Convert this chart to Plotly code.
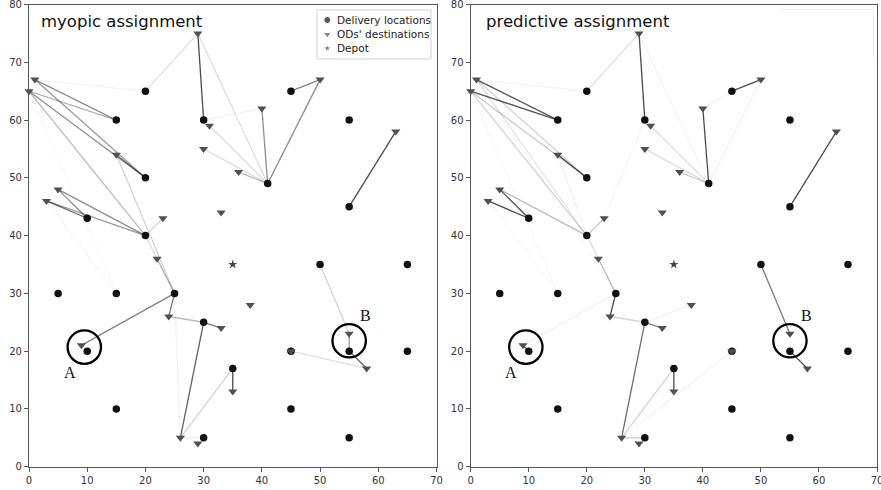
import plotly.graph_objects as go

W, H = 881, 490

# Delivery locations
delivery_x = [10, 15, 5, 15, 25, 20, 10, 20, 15, 20, 30, 41, 45, 55, 55, 50, 65, 45, 55, 65, 45, 55, 30, 30, 35]
delivery_y = [20, 10, 30, 30, 30, 40, 43, 50, 60, 65, 60, 49, 65, 60, 45, 35, 35, 20, 20, 20, 10, 5, 5, 25, 17]

# Occasional drivers' destinations
od_x = [1, 0, 15, 5, 3, 23, 22, 24, 9, 33, 35, 26, 29, 29, 31, 30, 40, 36, 33, 50, 63, 38, 45, 55, 58]
od_y = [67, 65, 54, 48, 46, 43, 36, 26, 21, 24, 13, 5, 4, 75, 59, 55, 62, 51, 44, 67, 58, 28, 20, 23, 17]

# Depot
depot_x = [35]
depot_y = [35]

# Assignments: (destination index, delivery index, weight)
myopic_edges = [
    (1, 8, 0.35), (0, 8, 0.5), (0, 7, 0.45), (1, 7, 0.5), (2, 7, 0.6),
    (1, 5, 0.3), (2, 4, 0.2), (3, 6, 0.5), (4, 6, 0.65), (3, 5, 0.5),
    (4, 5, 0.45), (5, 5, 0.2), (0, 9, 0.05), (13, 9, 0.15), (13, 10, 0.8),
    (13, 11, 0.15), (16, 10, 0.06), (14, 11, 0.15), (15, 11, 0.15), (17, 11, 0.3),
    (16, 11, 0.5), (19, 11, 0.5), (19, 12, 0.55), (20, 14, 0.8), (4, 3, 0.04),
    (1, 3, 0.03), (6, 5, 0.15), (6, 4, 0.35), (8, 4, 0.55), (7, 4, 0.6),
    (7, 23, 0.3), (9, 23, 0.6), (11, 23, 0.7), (11, 4, 0.06), (11, 24, 0.2),
    (11, 22, 0.08), (10, 24, 0.8), (23, 15, 0.2), (23, 18, 0.45), (24, 18, 0.7),
    (24, 17, 0.15),
]
predictive_edges = [
    (0, 8, 0.75), (1, 8, 0.75), (0, 9, 0.05), (1, 7, 0.25), (0, 7, 0.2),
    (2, 7, 0.8), (1, 5, 0.2), (0, 5, 0.12), (2, 5, 0.06), (3, 6, 0.8),
    (4, 6, 0.8), (3, 5, 0.3), (5, 5, 0.25), (4, 3, 0.03), (1, 3, 0.03),
    (0, 4, 0.03), (13, 9, 0.15), (13, 10, 0.8), (13, 11, 0.05), (14, 11, 0.15),
    (15, 11, 0.15), (17, 11, 0.2), (16, 11, 0.8), (16, 12, 0.05), (19, 11, 0.05),
    (19, 12, 0.8), (20, 14, 0.8), (5, 10, 0.04), (6, 5, 0.15), (6, 4, 0.3),
    (7, 4, 0.8), (8, 4, 0.05), (8, 0, 0.8), (7, 23, 0.2), (9, 23, 0.55),
    (11, 23, 0.65), (11, 24, 0.2), (11, 22, 0.25), (10, 24, 0.8), (11, 17, 0.05),
    (21, 23, 0.06), (23, 15, 0.6), (24, 18, 0.8),
]

panels = [
    ("myopic assignment", myopic_edges, "x", "y"),
    ("predictive assignment", predictive_edges, "x2", "y2"),
]

# Highlighted spots and their labels
highlights = [("A", 9.5, 20.7, 7.0, 16.3), ("B", 55.0, 21.8, 57.8, 26.1)]
circle_rx, circle_ry = 2.87, 2.89

x_ticks = list(range(0, 71, 10))
y_ticks = list(range(0, 81, 10))

legend_labels = ["Delivery locations", "ODs' destinations", "Depot"]

DOT_COLOR = "#111111"
TRI_COLOR = "#505050"
STAR_COLOR = "#444444"
FONT = "DejaVu Sans"

fig = go.Figure()

for title, edges, xa, ya in panels:
    for o, d, w in edges:
        fig.add_trace(go.Scatter(
            x=[od_x[o], delivery_x[d]], y=[od_y[o], delivery_y[d]],
            xaxis=xa, yaxis=ya, mode="lines",
            line=dict(color=f"rgba(30,30,30,{w})", width=1.3),
            showlegend=False, hoverinfo="skip",
        ))
    fig.add_trace(go.Scatter(
        x=delivery_x, y=delivery_y, xaxis=xa, yaxis=ya, mode="markers",
        marker=dict(symbol="circle", size=7.5, color=DOT_COLOR),
        showlegend=False, cliponaxis=False,
    ))
    fig.add_trace(go.Scatter(
        x=od_x, y=od_y, xaxis=xa, yaxis=ya, mode="markers",
        marker=dict(symbol="triangle-down", size=8, color=TRI_COLOR),
        showlegend=False, cliponaxis=False,
    ))
    fig.add_trace(go.Scatter(
        x=depot_x, y=depot_y, xaxis=xa, yaxis=ya, mode="markers",
        marker=dict(symbol="star", size=7, color=STAR_COLOR),
        showlegend=False,
    ))

# Legend keys drawn on a pixel-space overlay
key_x = 327.3
key_y = [20, 34.3, 48.3]
key_symbols = ["circle", "triangle-down", "star"]
key_colors = [DOT_COLOR, TRI_COLOR, STAR_COLOR]
key_sizes = [7, 7, 6]
fig.add_trace(go.Scatter(
    x=[key_x] * 3, y=key_y, xaxis="x3", yaxis="y3", mode="markers",
    marker=dict(symbol=key_symbols, color=key_colors, size=key_sizes),
    showlegend=False, hoverinfo="skip", cliponaxis=False,
))

shapes = []
annotations = []

# Legend frame in the first panel
shapes.append(dict(type="rect", xref="paper", yref="paper",
                   x0=317 / W, x1=431 / W, y0=1 - 59 / H, y1=1 - 10 / H,
                   line=dict(color="#d0d0d0", width=1), fillcolor="white",
                   layer="below"))
# Faint empty frame in the second panel
shapes.append(dict(type="path", xref="paper", yref="paper",
                   path=f"M {780 / W} {1 - 9.5 / H} L {873.5 / W} {1 - 9.5 / H} L {873.5 / W} {1 - 57 / H}",
                   line=dict(color="#ececec", width=1), layer="below"))

for i, lab in enumerate(legend_labels):
    annotations.append(dict(x=335 / W, y=1 - key_y[i] / H, xref="paper", yref="paper",
                            text=lab, showarrow=False, xanchor="left", yanchor="middle",
                            font=dict(family=FONT, size=10.5, color="#222")))

for title, edges, xa, ya in panels:
    for lab, cx, cy, lx, ly in highlights:
        shapes.append(dict(type="circle", xref=xa, yref=ya,
                           x0=cx - circle_rx, x1=cx + circle_rx,
                           y0=cy - circle_ry, y1=cy + circle_ry,
                           line=dict(color="black", width=2.3), layer="above"))
        annotations.append(dict(x=lx, y=ly, xref=xa, yref=ya, text=lab, showarrow=False,
                                xanchor="center", yanchor="middle",
                                font=dict(family="Liberation Serif", size=16, color="#111")))

annotations.append(dict(x=39 / W, y=1 - 22 / H, xref="paper", yref="paper",
                        text="myopic assignment", showarrow=False, xanchor="left",
                        yanchor="middle", font=dict(family=FONT, size=16.5, color="#111")))
annotations.append(dict(x=484 / W, y=1 - 22 / H, xref="paper", yref="paper",
                        text="predictive assignment", showarrow=False, xanchor="left",
                        yanchor="middle", font=dict(family=FONT, size=16.5, color="#111")))

axis_common = dict(showgrid=False, zeroline=False, showline=True, mirror=True,
                   linecolor="#555", linewidth=1.2, ticks="outside", ticklen=4,
                   tickcolor="#555", tickwidth=1, automargin=False,
                   ticklabeloverflow="allow",
                   tickfont=dict(family=FONT, size=10, color="#333"))

ydom = [23.3 / H, 1 - 4.5 / H]
fig.update_layout(
    width=W, height=H, margin=dict(l=0, r=0, t=0, b=0),
    template="none",
    paper_bgcolor="white", plot_bgcolor="rgba(0,0,0,0)",
    showlegend=False,
    xaxis=dict(domain=[29 / W, 436.5 / W], range=[0, 70], tickvals=x_ticks, anchor="y", **axis_common),
    yaxis=dict(domain=ydom, range=[0, 80], tickvals=y_ticks, anchor="x", **axis_common),
    xaxis2=dict(domain=[470.7 / W, 877 / W], range=[0, 70], tickvals=x_ticks, anchor="y2", **axis_common),
    yaxis2=dict(domain=ydom, range=[0, 80], tickvals=y_ticks, anchor="x2", **axis_common),
    xaxis3=dict(domain=[0, 1], range=[0, W], visible=False, anchor="y3", fixedrange=True),
    yaxis3=dict(domain=[0, 1], range=[H, 0], visible=False, anchor="x3", fixedrange=True),
    shapes=shapes, annotations=annotations,
)

fig.write_html("out.html")
